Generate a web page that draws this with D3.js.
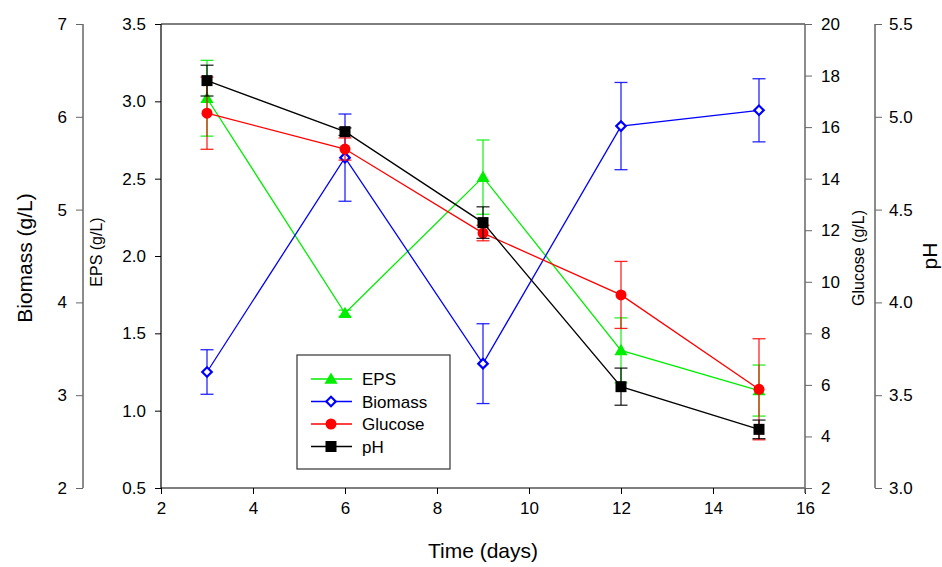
<!DOCTYPE html>
<html><head><meta charset="utf-8">
<script src="https://cdn.jsdelivr.net/npm/d3@7"></script>
<style>body{margin:0;background:#fff}svg{display:block;font-family:"Liberation Sans",Arial,sans-serif}</style>
</head><body><svg id="c" width="942" height="567"></svg>
<script>
const days = [3, 6, 9, 12, 15];
const eps = [3.02, 1.63, 2.51, 1.39, 1.13];
const epsErr = [0.245, 0.02, 0.24, 0.21, 0.165];
const biomass = [3.25, 5.56, 3.34, 5.90, 6.07];
const biomassErr = [0.24, 0.47, 0.43, 0.47, 0.34];
const glucose = [16.54, 15.15, 11.89, 9.49, 5.83];
const glucoseErr = [1.4, 0.43, 0.3, 1.3, 1.96];
const ph = [5.195, 4.92, 4.43, 3.546, 3.316];
const phErr = [0.083, 0.02, 0.085, 0.1, 0.05];
const xTicks = [2, 4, 6, 8, 10, 12, 14, 16];
const epsTicks = [0.5, 1.0, 1.5, 2.0, 2.5, 3.0, 3.5];
const biomassTicks = [2, 3, 4, 5, 6, 7];
const glucoseTicks = [2, 4, 6, 8, 10, 12, 14, 16, 18, 20];
const phTicks = [3.0, 3.5, 4.0, 4.5, 5.0, 5.5];

const svg = d3.select("#c");
const L = 161, R = 805, T = 24, B = 488;
const x = d3.scaleLinear().domain([2, 16]).range([L, R]);
const yE = d3.scaleLinear().domain([0.5, 3.5]).range([B, T]);
const yB = d3.scaleLinear().domain([2, 7]).range([B, T]);
const yG = d3.scaleLinear().domain([2, 20]).range([B, T]);
const yP = d3.scaleLinear().domain([3.0, 5.5]).range([B, T]);

function styleAxis(g, col, fs) {
  g.select(".domain").remove();
  g.selectAll(".tick line").attr("stroke", col);
  g.selectAll(".tick text").attr("font-size", fs).attr("fill", "#000").attr("font-family", '"Liberation Sans",Arial,sans-serif');
}

// frame
svg.append("line").attr("x1", L).attr("x2", R).attr("y1", T).attr("y2", T).attr("stroke", "#000").attr("stroke-width", 1.2);
svg.append("line").attr("x1", L).attr("x2", L).attr("y1", T).attr("y2", B).attr("stroke", "#000").attr("stroke-width", 1.2);

// x axis
const gx = svg.append("g").attr("transform", `translate(0,${B})`)
  .call(d3.axisBottom(x).tickValues(xTicks).tickFormat(d3.format("d")).tickSize(6).tickPadding(8));
styleAxis(gx, "#000", 17);
svg.append("line").attr("x1", L).attr("x2", R).attr("y1", B).attr("y2", B).attr("stroke", "#000").attr("stroke-width", 1.2);

// EPS axis (left inner)
const ge = svg.append("g").attr("transform", `translate(${L},0)`)
  .call(d3.axisLeft(yE).tickValues(epsTicks).tickFormat(d3.format(".1f")).tickSize(6).tickPadding(9));
styleAxis(ge, "#000", 17);

// Biomass axis (far left)
const BX = 83;
const gb = svg.append("g").attr("transform", `translate(${BX},0)`)
  .call(d3.axisLeft(yB).tickValues(biomassTicks).tickFormat(d3.format("d")).tickSize(7).tickPadding(9));
styleAxis(gb, "#666", 17);
svg.append("line").attr("x1", BX).attr("x2", BX).attr("y1", T).attr("y2", B).attr("stroke", "#666").attr("stroke-width", 1.5);

// Glucose axis (right inner)
const gg = svg.append("g").attr("transform", `translate(${R},0)`)
  .call(d3.axisRight(yG).tickValues(glucoseTicks).tickFormat(d3.format("d")).tickSize(7).tickPadding(9));
styleAxis(gg, "#666", 17);
svg.append("line").attr("x1", R).attr("x2", R).attr("y1", T).attr("y2", B + 5).attr("stroke", "#666").attr("stroke-width", 1.5);

// pH axis (far right)
const PX = 875;
const gp = svg.append("g").attr("transform", `translate(${PX},0)`)
  .call(d3.axisRight(yP).tickValues(phTicks).tickFormat(d3.format(".1f")).tickSize(7).tickPadding(7));
styleAxis(gp, "#666", 17);
svg.append("line").attr("x1", PX).attr("x2", PX).attr("y1", T).attr("y2", B).attr("stroke", "#666").attr("stroke-width", 1.5);

// titles
svg.append("text").attr("x", 483).attr("y", 558).attr("text-anchor", "middle").attr("font-size", 21).text("Time (days)");
svg.append("text").attr("transform", "translate(32,258) rotate(-90)").attr("text-anchor", "middle").attr("font-size", 21).text("Biomass (g/L)");
svg.append("text").attr("transform", "translate(102,252) rotate(-90)").attr("text-anchor", "middle").attr("font-size", 16).text("EPS (g/L)");
svg.append("text").attr("transform", "translate(864,258) rotate(-90)").attr("text-anchor", "middle").attr("font-size", 16).text("Glucose (g/L)");
svg.append("text").attr("transform", "translate(937,256) rotate(-90)").attr("text-anchor", "middle").attr("font-size", 21).text("pH");

const series = [
  {name: "EPS", vals: eps, err: epsErr, y: yE, color: "#00ee00", sym: "tri"},
  {name: "Biomass", vals: biomass, err: biomassErr, y: yB, color: "#0000ff", sym: "dia"},
  {name: "Glucose", vals: glucose, err: glucoseErr, y: yG, color: "#ff0000", sym: "circ"},
  {name: "pH", vals: ph, err: phErr, y: yP, color: "#000000", sym: "sq"}
];

function marker(g, sym, color, cx, cy) {
  if (sym === "tri") {
    g.append("path").attr("d", d3.symbol().type(d3.symbolTriangle).size(75)()).attr("transform", `translate(${cx},${cy + 1})`).attr("fill", color);
  } else if (sym === "dia") {
    g.append("path").attr("d", d3.symbol().type(d3.symbolSquare).size(45)()).attr("transform", `translate(${cx},${cy}) rotate(45)`).attr("fill", "#fff").attr("stroke", color).attr("stroke-width", 2.2);
  } else if (sym === "circ") {
    g.append("circle").attr("cx", cx).attr("cy", cy).attr("r", 5.5).attr("fill", color);
  } else {
    g.append("rect").attr("x", cx - 5.5).attr("y", cy - 5.5).attr("width", 11).attr("height", 11).attr("fill", color);
  }
}

series.forEach(s => {
  const g = svg.append("g");
  const pts = days.map((d, i) => ({d, v: s.vals[i], e: s.err[i]}));
  pts.forEach(p => {
    const cx = x(p.d), y1 = s.y(p.v + p.e), y2 = s.y(p.v - p.e);
    g.append("line").attr("x1", cx).attr("x2", cx).attr("y1", y1).attr("y2", y2).attr("stroke", s.color).attr("stroke-width", 1.3).attr("opacity", 0.85);
    [y1, y2].forEach(yy => g.append("line").attr("x1", cx - 6.5).attr("x2", cx + 6.5).attr("y1", yy).attr("y2", yy).attr("stroke", s.color).attr("stroke-width", 1.3).attr("opacity", 0.85));
  });
  g.append("path").datum(pts).attr("fill", "none").attr("stroke", s.color).attr("stroke-width", 1.3)
    .attr("d", d3.line().x(p => x(p.d)).y(p => s.y(p.v)));
  pts.forEach(p => marker(g, s.sym, s.color, x(p.d), s.y(p.v)));
});

// legend
const lg = svg.append("g");
lg.append("rect").attr("x", 297).attr("y", 355).attr("width", 153).attr("height", 114).attr("fill", "#fff").attr("stroke", "#333").attr("stroke-width", 1.2);
series.forEach((s, i) => {
  const yy = 379 + i * 22.5;
  lg.append("line").attr("x1", 311).attr("x2", 352).attr("y1", yy).attr("y2", yy).attr("stroke", s.color).attr("stroke-width", 1.3);
  marker(lg, s.sym, s.color, 331, yy);
  lg.append("text").attr("x", 362).attr("y", yy + 6).attr("font-size", 17).text(s.name);
});
</script>
</body></html>
